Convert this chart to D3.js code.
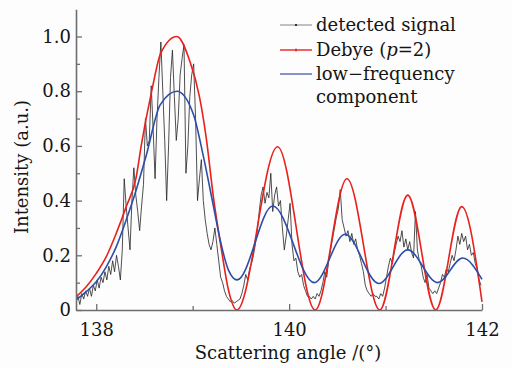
<!DOCTYPE html>
<html>
<head>
<meta charset="utf-8">
<script src="https://cdn.jsdelivr.net/npm/d3@7"></script>
<style>
  html, body { margin: 0; padding: 0; background: #fdfdfd; }
  svg { display: block; }
  text { font-family: "DejaVu Serif", "Liberation Serif", serif; fill: #151515; }
</style>
</head>
<body>
<svg id="chart" width="512" height="368"></svg>
<script>
// ---------------- data ----------------
const xMajorTicks = [138, 140, 142];
const xMinorTicks = [139, 141];
const yMajorTicks = [0, 0.2, 0.4, 0.6, 0.8, 1.0];
const yMinorTicks = [0.1, 0.3, 0.5, 0.7, 0.9];

// detected signal: first angle and angular step (degrees) of the sampled trace
const signalStart = 137.79;
const signalStep = 0.02;
const signalValues = [
  0.03, 0.05, 0.02, 0.06, 0.04, 0.07, 0.05, 0.08, 0.05, 0.09,
  0.07, 0.11, 0.08, 0.12, 0.10, 0.14, 0.11, 0.16, 0.13, 0.18,
  0.14, 0.20, 0.16, 0.11, 0.22, 0.48, 0.38, 0.30, 0.22, 0.40,
  0.52, 0.42, 0.36, 0.29, 0.38, 0.46, 0.70, 0.60, 0.62, 0.82,
  0.66, 0.48, 0.70, 0.85, 0.98, 0.80, 0.62, 0.40, 0.60, 0.85,
  0.95, 0.78, 0.62, 0.70, 0.86, 0.92, 0.97, 0.50, 0.60, 0.78,
  0.86, 0.90, 0.70, 0.40, 0.48, 0.55, 0.40, 0.33, 0.28, 0.24,
  0.22, 0.25, 0.30, 0.24, 0.18, 0.12, 0.10, 0.07, 0.05, 0.04,
  0.03, 0.035, 0.025, 0.03, 0.035, 0.04, 0.06, 0.09, 0.13, 0.11,
  0.15, 0.17, 0.20, 0.24, 0.29, 0.36, 0.42, 0.45, 0.39, 0.43,
  0.41, 0.50, 0.36, 0.42, 0.45, 0.38, 0.40, 0.30, 0.22, 0.27,
  0.33, 0.39, 0.24, 0.18, 0.19, 0.14, 0.12, 0.13, 0.09, 0.07,
  0.05, 0.05, 0.04, 0.05, 0.04, 0.06, 0.05, 0.07, 0.10, 0.14,
  0.12, 0.18, 0.22, 0.26, 0.30, 0.34, 0.37, 0.44, 0.33, 0.30,
  0.27, 0.29, 0.25, 0.28, 0.24, 0.26, 0.22, 0.20, 0.17, 0.14,
  0.09, 0.07, 0.06, 0.05, 0.06, 0.05, 0.05, 0.04, 0.06, 0.05,
  0.08, 0.12, 0.16, 0.19, 0.17, 0.21, 0.24, 0.27, 0.25, 0.29,
  0.23, 0.26, 0.22, 0.25, 0.21, 0.19, 0.36, 0.22, 0.18, 0.16,
  0.12, 0.10, 0.13, 0.08, 0.07, 0.06, 0.07, 0.06, 0.08, 0.10,
  0.13, 0.12, 0.15, 0.14, 0.17, 0.20, 0.18, 0.22, 0.27, 0.24,
  0.28, 0.25, 0.27, 0.22, 0.24, 0.20, 0.21, 0.17, 0.15, 0.11,
  0.09
];

// Debye (p=2) curve
const debyeAngles = [137.793, 137.896, 138.0, 138.104, 138.207, 138.311, 138.415, 138.466, 138.575, 138.67,
  138.836, 138.97, 139.07, 139.14, 139.216, 139.303, 139.371, 139.458,
  139.88, 140.27, 140.60, 140.94, 141.23, 141.52, 141.79, 142.0];
const debyeValues = [0.049, 0.085, 0.134, 0.195, 0.28, 0.378, 0.487, 0.60, 0.80, 0.94,
  1.00, 0.91, 0.78, 0.63, 0.41, 0.21, 0.073, 0.0,
  0.597, 0.0, 0.48, 0.0, 0.42, 0.0, 0.378, 0.03];

// low-frequency component
const lowAngles = [137.793, 137.896, 138.0, 138.104, 138.207, 138.311, 138.415, 138.518, 138.663, 138.836,
  139.008, 139.112, 139.216, 139.285, 139.371,
  139.461, 139.83, 140.26, 140.58, 140.93, 141.23, 141.54, 141.80, 142.0];
const lowValues = [0.037, 0.067, 0.103, 0.158, 0.231, 0.33, 0.44, 0.565, 0.75, 0.80,
  0.715, 0.56, 0.378, 0.256, 0.146,
  0.11, 0.38, 0.10, 0.277, 0.097, 0.22, 0.10, 0.19, 0.112];

// ---------------- chart ----------------
const svg = d3.select("#chart");
const x = d3.scaleLinear().domain([137.79, 142]).range([76, 482]);
const y = d3.scaleLinear().domain([0, 1.1]).range([310, 9.15]);

const axisColor = "#6e6e6e";
const fontSize = 18;

const plot = svg.append("g");
plot.append("defs").append("clipPath").attr("id", "clip")
  .append("rect").attr("x", 76).attr("y", 0).attr("width", 407).attr("height", 312);

const signal = signalValues.map((v, i) => [signalStart + i * signalStep, v]);
const debye = debyeAngles.map((a, i) => [a, debyeValues[i]]);
const low = lowAngles.map((a, i) => [a, lowValues[i]]);

const lineStraight = d3.line().x(d => x(d[0])).y(d => y(d[1]));
const lineSmooth = d3.line().x(d => x(d[0])).y(d => y(d[1])).curve(d3.curveMonotoneX);

const g = plot.append("g").attr("clip-path", "url(#clip)");
g.append("path").datum(signal).attr("d", lineStraight)
  .attr("fill", "none").attr("stroke", "#222").attr("stroke-width", 0.8).attr("stroke-linejoin", "round");
g.append("path").datum(debye).attr("d", lineSmooth)
  .attr("fill", "none").attr("stroke", "#e8211c").attr("stroke-width", 1.6);
g.append("path").datum(low).attr("d", lineSmooth)
  .attr("fill", "none").attr("stroke", "#2d4ea6").attr("stroke-width", 1.6);

// axes
function styleAxis(sel) {
  sel.select(".domain").attr("stroke", axisColor).attr("stroke-width", 1.6);
  sel.selectAll(".tick line").attr("stroke", axisColor).attr("stroke-width", 1.3);
  sel.selectAll(".tick text").attr("font-family", "DejaVu Serif, serif").attr("font-size", fontSize).attr("fill", "#151515");
}
const xAxis = svg.append("g").attr("transform", "translate(0,310)")
  .call(d3.axisBottom(x).tickValues(xMajorTicks).tickFormat(d3.format("d")).tickSizeInner(-6).tickSizeOuter(0).tickPadding(13));
styleAxis(xAxis);
const xMinor = svg.append("g").attr("transform", "translate(0,310)")
  .call(d3.axisBottom(x).tickValues(xMinorTicks).tickFormat("").tickSizeInner(-4).tickSizeOuter(0));
styleAxis(xMinor);
xMinor.select(".domain").remove();

const yAxis = svg.append("g").attr("transform", "translate(76,0)")
  .call(d3.axisLeft(y).tickValues(yMajorTicks).tickFormat(d => d === 0 ? "0" : d3.format(".1f")(d)).tickSizeInner(-6).tickSizeOuter(0).tickPadding(5));
styleAxis(yAxis);
const yMinor = svg.append("g").attr("transform", "translate(76,0)")
  .call(d3.axisLeft(y).tickValues(yMinorTicks).tickFormat("").tickSizeInner(-4).tickSizeOuter(0));
styleAxis(yMinor);
yMinor.select(".domain").remove();

// axis titles
svg.append("text").attr("x", 288).attr("y", 359).attr("text-anchor", "middle")
  .attr("font-size", fontSize).text("Scattering angle /(°)");
svg.append("text").attr("transform", "translate(28,167) rotate(-90)").attr("text-anchor", "middle")
  .attr("font-size", fontSize).text("Intensity (a.u.)");

// legend
const legend = svg.append("g");
const legendRows = [
  { y: 25, color: "#777", mark: "dot" },
  { y: 50, color: "#e8211c", mark: "tick" },
  { y: 74, color: "#5665b0", mark: "none" }
];
legendRows.forEach(r => {
  legend.append("line").attr("x1", 280).attr("x2", 312).attr("y1", r.y).attr("y2", r.y)
    .attr("stroke", r.color).attr("stroke-width", r.mark === "dot" ? 0.9 : 1.4);
  if (r.mark === "dot") legend.append("circle").attr("cx", 296).attr("cy", r.y).attr("r", 1.1).attr("fill", "#111");
  if (r.mark === "tick") legend.append("line").attr("x1", 296).attr("x2", 296).attr("y1", r.y - 1.5).attr("y2", r.y + 1.5)
    .attr("stroke", "#c01010").attr("stroke-width", 1);
});
legend.append("text").attr("x", 316).attr("y", 31).attr("font-size", fontSize).text("detected signal");
const t2 = legend.append("text").attr("x", 316).attr("y", 56).attr("font-size", fontSize);
t2.append("tspan").text("Debye (");
t2.append("tspan").attr("font-style", "italic").text("p");
t2.append("tspan").text("=2)");
legend.append("text").attr("x", 316).attr("y", 80).attr("font-size", fontSize).text("low−frequency");
legend.append("text").attr("x", 316).attr("y", 103).attr("font-size", fontSize).text("component");
</script>
</body>
</html>
